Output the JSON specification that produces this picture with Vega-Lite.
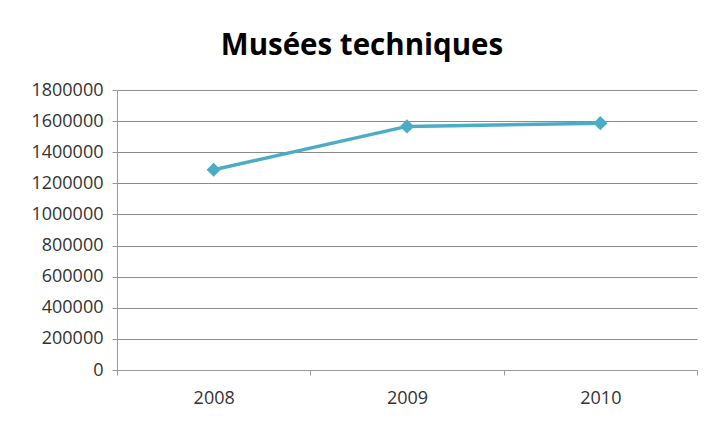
{
  "$schema": "https://vega.github.io/schema/vega-lite/v6.json",
  "autosize": "none",
  "width": 580,
  "height": 280,
  "padding": {"left": 117, "top": 90, "right": 11, "bottom": 58},
  "background": "white",
  "title": {
    "text": "Musées techniques",
    "font": "Open Sans",
    "fontSize": 29.5,
    "fontWeight": "bold",
    "color": "#000000",
    "anchor": "middle",
    "dx": -45,
    "baseline": "alphabetic",
    "offset": -3
  },
  "data": {
    "values": [
      {"year": "2008", "visitors": 1287000},
      {"year": "2009", "visitors": 1566000},
      {"year": "2010", "visitors": 1587000}
    ]
  },
  "config": {
    "view": {"stroke": null},
    "axis": {
      "labelFont": "Open Sans",
      "labelFontSize": 18,
      "labelColor": "#333333",
      "domainColor": "#9a9a9a",
      "tickColor": "#9a9a9a",
      "gridColor": "#8a8a8a",
      "labelOverlap": false
    }
  },
  "layer": [
    {
      "mark": {"type": "line", "color": "#4BACC6", "strokeWidth": 3.5},
      "encoding": {
        "x": {"field": "year", "type": "ordinal", "scale": {"paddingInner": 0, "paddingOuter": 0},
          "axis": {"title": null, "labelAngle": 0, "tickBand": "extent", "tickSize": 5, "labelPadding": 14, "grid": false}},
        "y": {"field": "visitors", "type": "quantitative", "scale": {"domain": [0, 1800000], "nice": false},
          "axis": {"title": null, "tickCount": 20, "values": [0,200000,400000,600000,800000,1000000,1200000,1400000,1600000,1800000], "format": "d", "tickSize": 5, "labelPadding": 9, "grid": true}}
      }
    },
    {
      "mark": {"type": "point", "shape": "diamond", "filled": true, "opacity": 1, "color": "#4BACC6", "size": 200},
      "encoding": {
        "x": {"field": "year", "type": "ordinal"},
        "y": {"field": "visitors", "type": "quantitative"}
      }
    }
  ]
}
